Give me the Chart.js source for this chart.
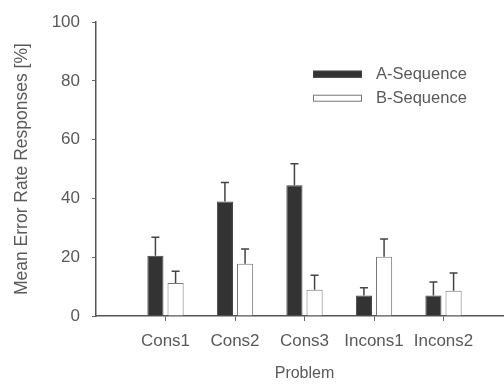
<!DOCTYPE html>
<html>
<head>
<meta charset="utf-8">
<script src="https://cdn.jsdelivr.net/npm/chart.js@4"></script>
<style>
  html, body { margin: 0; padding: 0; background: #fff; overflow: hidden; }
  #wrap { width: 504px; height: 386px; overflow: hidden; }
</style>
</head>
<body>
<div id="wrap"><canvas id="errChart" width="530" height="386"></canvas></div>
<script>
// 데이터
const categories = ['Cons1', 'Cons2', 'Cons3', 'Incons1', 'Incons2'];
const aSeq = [20.5, 39, 44.5, 7, 7];
const aErr = [6.3, 6.4, 7.3, 2.6, 4.6];
const bSeq = [11.2, 17.8, 8.9, 20.2, 8.6];
const bErr = [4, 5, 5, 6, 6];
const yTicks = [0, 20, 40, 60, 80, 100];

const TEXT = '#5a5a5a';
const FONT = 'Liberation Sans, Arial, sans-serif';

// 축 양끝에 빈 칸 (0 과 6 위치)
const pad = arr => [null, ...arr, null];

// 위쪽 오차 막대
const errorBars = {
  id: 'errorBars',
  afterDatasetsDraw(chart) {
    const { ctx } = chart;
    const y = chart.scales.y;
    chart.data.datasets.forEach((ds, di) => {
      const meta = chart.getDatasetMeta(di);
      meta.data.forEach((bar, i) => {
        const v = ds.data[i];
        if (v == null) return;
        const top = y.getPixelForValue(v + ds.errors[i]);
        ctx.save();
        ctx.strokeStyle = '#444';
        ctx.lineWidth = 1.5;
        ctx.beginPath();
        ctx.moveTo(bar.x, bar.y);
        ctx.lineTo(bar.x, top);
        ctx.moveTo(bar.x - 4, top);
        ctx.lineTo(bar.x + 4, top);
        ctx.stroke();
        ctx.restore();
      });
    });
  }
};

// 범례 (차트 영역 안쪽 오른쪽 위)
const innerLegend = {
  id: 'innerLegend',
  afterDraw(chart) {
    const { ctx, chartArea } = chart;
    const x0 = chartArea.left + 217;
    let yc = chartArea.top + 52;
    chart.data.datasets.forEach(ds => {
      ctx.save();
      ctx.fillStyle = ds.backgroundColor;
      ctx.strokeStyle = ds.borderColor;
      ctx.lineWidth = 1;
      ctx.fillRect(x0, yc - 3.5, 49, 7);
      ctx.strokeRect(x0 + 0.5, yc - 3, 48, 6);
      ctx.fillStyle = TEXT;
      ctx.font = '16.5px ' + FONT;
      ctx.textBaseline = 'middle';
      ctx.fillText(ds.label, x0 + 63, yc);
      ctx.restore();
      yc += 24;
    });
  }
};

new Chart(document.getElementById('errChart'), {
  type: 'bar',
  data: {
    labels: pad(categories),
    datasets: [
      {
        label: 'A-Sequence',
        data: pad(aSeq),
        errors: pad(aErr),
        backgroundColor: '#333',
        borderColor: '#444',
        borderWidth: 1
      },
      {
        label: 'B-Sequence',
        data: pad(bSeq),
        errors: pad(bErr),
        backgroundColor: '#fff',
        borderColor: '#777',
        borderWidth: 1
      }
    ]
  },
  options: {
    responsive: false,
    animation: false,
    categoryPercentage: 0.58,
    barPercentage: 0.8,
    layout: { padding: { left: 0, right: 17, top: 17, bottom: 0 } },
    plugins: {
      legend: { display: false },
      tooltip: { enabled: false }
    },
    scales: {
      x: {
        offset: false,
        grid: { display: true, offset: false, drawOnChartArea: false, tickLength: 5, color: '#666' },
        border: { color: '#555', dash: [1, 1], width: 1.5 },
        ticks: { color: TEXT, font: { family: FONT, size: 17 }, padding: 10, maxRotation: 0, autoSkip: false },
        title: { display: true, text: 'Problem', color: TEXT, font: { family: FONT, size: 16 }, padding: { top: 0, bottom: 3 } },
        afterFit(scale) { scale.height = 70; }
      },
      y: {
        min: 0,
        max: 100,
        afterBuildTicks(scale) { scale.ticks = yTicks.map(v => ({ value: v })); },
        grid: { display: true, drawOnChartArea: false, tickLength: 4, color: '#666' },
        border: { color: '#555', dash: [1, 1], width: 1.5 },
        ticks: { color: TEXT, font: { family: FONT, size: 17 }, padding: 12 },
        title: { display: true, text: 'Mean Error Rate Responses [%]', color: TEXT, font: { family: FONT, size: 17.5 }, padding: { top: 12, bottom: 0 } },
        afterFit(scale) { scale.width = 96; }
      }
    }
  },
  plugins: [errorBars, innerLegend]
});
</script>
</body>
</html>
